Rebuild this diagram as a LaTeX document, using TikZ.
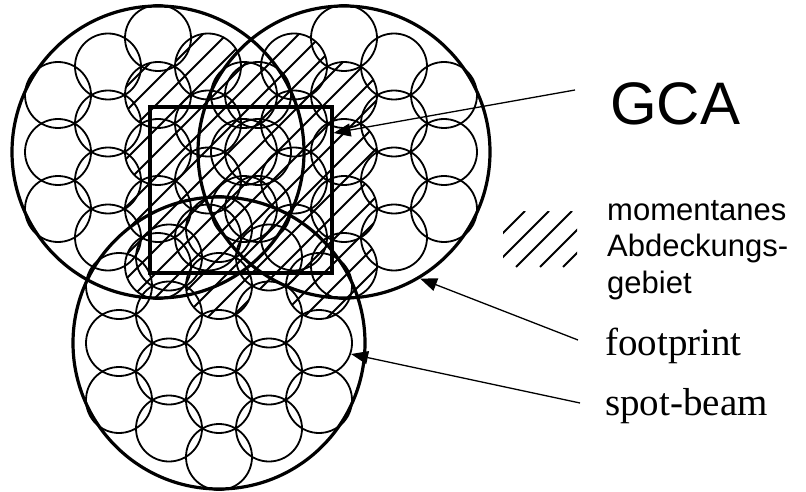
\documentclass[tikz,border=0pt]{standalone}
\usepackage{fontspec}
\newfontfamily\labelsans{Liberation Sans}
\newfontfamily\labelserif{Liberation Serif}
\usetikzlibrary{arrows.meta}

\begin{document}
\begin{tikzpicture}[x=1pt, y=-1pt,
		footprint/.style = {circle, draw, line width=3.2pt, minimum size=292pt, inner sep=0pt},
		spot/.style = {circle, draw, line width=1.8pt, minimum size=66pt, inner sep=0pt},
		gcabox/.style = {rectangle, draw, line width=3.2pt, minimum width=182pt, minimum height=166pt, inner sep=0pt},
		hatch/.style = {line width=1.9pt},
		ptr/.style = {line width=1.3pt, -{Triangle[length=17pt,width=13pt]}},
		sanslabel/.style = {anchor=base west, inner sep=0pt, font=\labelsans#1},
		seriflabel/.style = {anchor=base west, inner sep=0pt, font=\labelserif\fontsize{39}{46}\selectfont}]
	\useasboundingbox (0,0) rectangle (806,492);
	%
	% momentanes Abdeckungsgebiet
	\begin{scope}
		\clip foreach \x/\y in {158/95, 158/152, 158/209, 158/266, 208/66.5, 208/123.5, 208/180.5, 208/237.5,
				258/95, 258/152, 258/209, 244/95, 244/152, 244/209, 294/66.5, 294/123.5, 294/180.5, 294/237.5,
				344/95, 344/152, 344/209, 344/266, 169/257.5, 219/229, 219/286, 269/257.5, 319/286}
			{(\x,\y) circle (33pt)};
		\foreach \k in {117,141,...,789}
			\draw[hatch] (\k,0) -- (\k-500,500);
	\end{scope}
	%
	% spot-beams
	\foreach \cx/\cy/\fp in {158/152/L, 344/152/R, 219/343/B}
		\foreach \dx/\dy [count=\n] in {-100/-57, -100/0, -100/57, -50/-85.5, -50/-28.5, -50/28.5, -50/85.5,
				0/-114, 0/-57, 0/0, 0/57, 0/114, 50/-85.5, 50/-28.5, 50/28.5, 50/85.5, 100/-57, 100/0, 100/57}
			\node[spot] (s\fp\n) at (\cx+\dx,\cy+\dy) {};
	%
	% footprints and GCA
	\node[footprint] (fpL) at (158,152) {};
	\node[footprint] (fpR) at (344,152) {};
	\node[footprint] (fpB) at (219,343) {};
	\node[gcabox] (gca) at (241,190) {};
	%
	% legend
	\begin{scope}
		\clip (503,211) rectangle (577,267);
		\foreach \k in {736,760,783,807,830}
			\draw[hatch] (\k-211,211) -- (\k-267,267);
	\end{scope}
	\node[sanslabel={\fontsize{60}{72}\selectfont}] (gcalabel) at (610,125) {GCA};
	\node[sanslabel={\fontsize{31}{36.5}\selectfont}, align=left] (area) at (607,293) {momentanes\\Abdeckungs-\\gebiet};
	\node[seriflabel] (foot) at (605,355) {footprint};
	\node[seriflabel] (beam) at (605,415) {spot-beam};
	%
	\coordinate (tGCA) at ([shift={(-35,-35)}]gcalabel.base west);
	\coordinate (tFoot) at ([shift={(-27,-15)}]foot.base west);
	\coordinate (tBeam) at ([shift={(-25,-12)}]beam.base west);
	\draw[ptr] (tGCA) -- ([yshift=57pt]gca.east);
	\draw[ptr] (tFoot) -- (fpR.-59);
	\draw[ptr] (tBeam) -- (sB18.-19);
	%
\end{tikzpicture}
\end{document}
